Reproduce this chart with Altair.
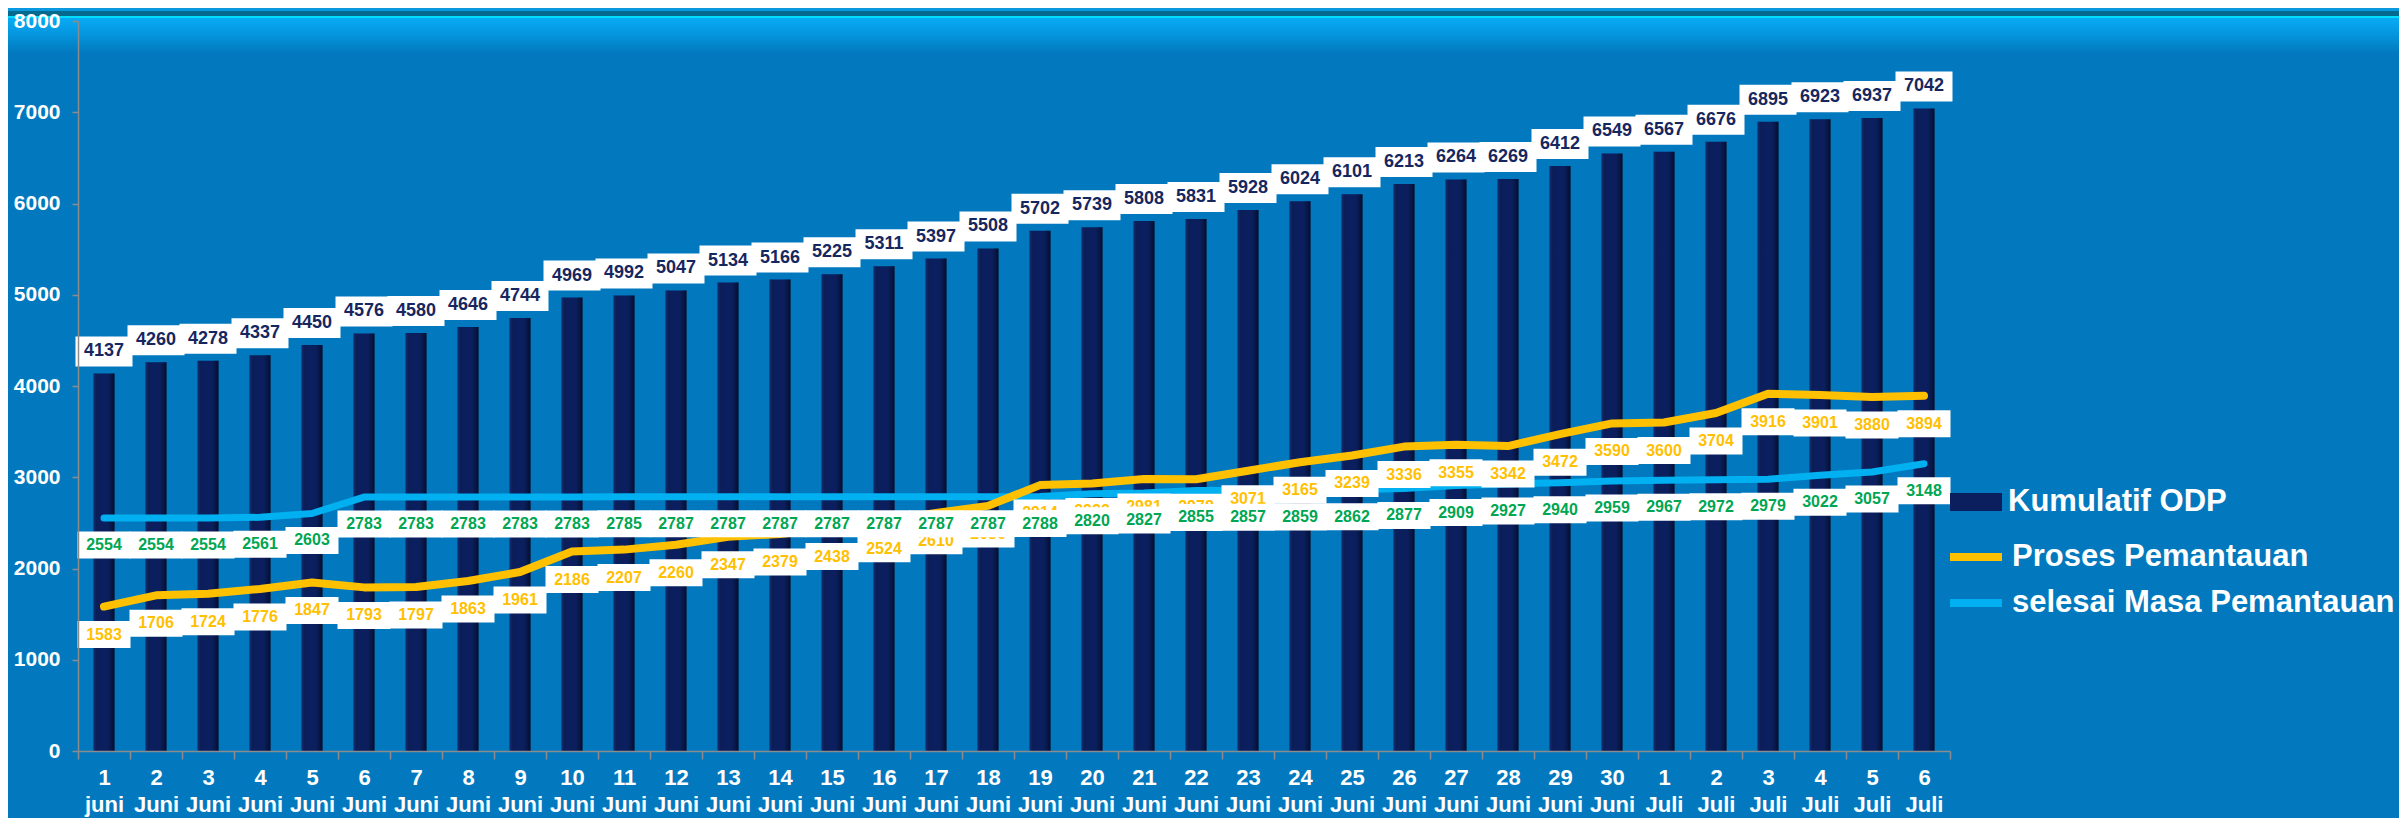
import altair as alt
import pandas as pd

# ---- data ----
day_labels = ["1", "2", "3", "4", "5", "6", "7", "8", "9", "10",
              "11", "12", "13", "14", "15", "16", "17", "18", "19", "20",
              "21", "22", "23", "24", "25", "26", "27", "28", "29", "30",
              "1", "2", "3", "4", "5", "6"]
month_labels = ["juni"] + ["Juni"] * 29 + ["Juli"] * 6

kumulatif_odp = [4137, 4260, 4278, 4337, 4450, 4576, 4580, 4646, 4744, 4969,
                 4992, 5047, 5134, 5166, 5225, 5311, 5397, 5508, 5702, 5739,
                 5808, 5831, 5928, 6024, 6101, 6213, 6264, 6269, 6412, 6549,
                 6567, 6676, 6895, 6923, 6937, 7042]
proses_pemantauan = [1583, 1706, 1724, 1776, 1847, 1793, 1797, 1863, 1961, 2186,
                     2207, 2260, 2347, 2379, 2438, 2524, 2610, 2686, 2914, 2932,
                     2981, 2978, 3071, 3165, 3239, 3336, 3355, 3342, 3472, 3590,
                     3600, 3704, 3916, 3901, 3880, 3894]
selesai_pemantauan = [2554, 2554, 2554, 2561, 2603, 2783, 2783, 2783, 2783, 2783,
                      2785, 2787, 2787, 2787, 2787, 2787, 2787, 2787, 2788, 2820,
                      2827, 2855, 2857, 2859, 2862, 2877, 2909, 2927, 2940, 2959,
                      2967, 2972, 2979, 3022, 3057, 3148]

series_names = ["Kumulatif ODP", "Proses Pemantauan", "selesai Masa Pemantauan"]
y_ticks = [0, 1000, 2000, 3000, 4000, 5000, 6000, 7000, 8000]

# ---- styling ----
BG = "#0279BE"
NAVY = "#0B1F5E"
ORANGE = "#FFC000"
BLUE = "#00B0F0"
GREEN = "#00A651"
LABEL_NAVY = "#16275F"
FONT = "Liberation Sans"

W, H = 1872, 730
PAD = {"left": 70, "top": 13, "right": 449, "bottom": 67}

categories = [f"{d}|{m}" for d, m in zip(day_labels, month_labels)]
df = pd.DataFrame({
    "cat": categories,
    "odp": kumulatif_odp,
    "proses": proses_pemantauan,
    "selesai": selesai_pemantauan,
})
lines_df = pd.DataFrame({
    "cat": categories * 2,
    "series": [series_names[1]] * len(categories) + [series_names[2]] * len(categories),
    "value": proses_pemantauan + selesai_pemantauan,
})

x_enc = alt.X(
    "cat:N", sort=categories, title=None,
    scale=alt.Scale(paddingInner=0, paddingOuter=0),
    axis=alt.Axis(
        labelExpr="split(datum.label, '|')",
        labelAngle=0, labelColor="white", labelFont=FONT, labelFontSize=22,
        labelFontWeight="bold", labelLineHeight=27, labelBaseline="top",
        labelPadding=8, tickSize=8, tickColor="#8C8C8C", tickWidth=1.5,
        tickBand="extent", domainColor="#8C8C8C", domainWidth=1.5,
        labelOverlap=False, labelLimit=200, zindex=1,
    ),
)


def y_enc(field):
    return alt.Y(
        field, title=None,
        scale=alt.Scale(domain=[0, 8000], nice=False, zero=True),
        axis=alt.Axis(
            values=y_ticks, format="d", labelColor="white", labelFont=FONT,
            labelFontSize=21, labelFontWeight="bold", labelPadding=12,
            tickSize=6, tickColor="#8C8C8C", tickWidth=1.5,
            domainColor="#8C8C8C", domainWidth=1.5, grid=False, zindex=1,
        ),
    )


base = alt.Chart(df)

# decorative header band of the slide template
band = alt.Chart(pd.DataFrame({"k": [0]})).mark_rect(
    fill=alt.Gradient(
        gradient="linear", x1=0, x2=0, y1=0, y2=1,
        stops=[
            alt.GradientStop(offset=0, color="#0A98DE"),
            alt.GradientStop(offset=0.07, color="#0A98DE"),
            alt.GradientStop(offset=0.07, color="#06698E"),
            alt.GradientStop(offset=0.18, color="#06698E"),
            alt.GradientStop(offset=0.18, color="#00DDFF"),
            alt.GradientStop(offset=0.23, color="#00DDFF"),
            alt.GradientStop(offset=0.23, color="#08AAF5"),
            alt.GradientStop(offset=0.55, color="#0598E0"),
            alt.GradientStop(offset=1, color=BG),
        ],
    ),
    clip=False,
).encode(
    x=alt.value(-PAD["left"]), x2=alt.value(W + PAD["right"]),
    y=alt.value(-PAD["top"]), y2=alt.value(32),
)

BOX_PATH = "M-1,-{h}L1,-{h}L1,{h}L-1,{h}Z"

bars = base.mark_bar(size=21).transform_calculate(
    s="'Kumulatif ODP'"
).encode(
    x=x_enc, y=y_enc("odp:Q"),
    fill=alt.Fill(
        "s:N", scale=alt.Scale(domain=[series_names[0]], range=[NAVY]),
        legend=alt.Legend(
            title=None, orient="none", legendX=1872, legendY=455,
            symbolType=BOX_PATH.format(h="0.346"), symbolSize=2704,
            symbolStrokeWidth=0, labelFont=FONT, labelFontSize=31,
            labelFontWeight="bold", labelColor="white", labelOffset=6,
            labelLimit=600, padding=0,
        ),
    ),
)

bar_shade = base.mark_bar(
    size=21,
    fill=alt.Gradient(
        gradient="linear", x1=0, x2=1, y1=0, y2=0,
        stops=[
            alt.GradientStop(offset=0, color="rgba(40,70,150,0.45)"),
            alt.GradientStop(offset=0.25, color="rgba(0,0,0,0)"),
            alt.GradientStop(offset=0.7, color="rgba(0,0,0,0)"),
            alt.GradientStop(offset=1, color="rgba(0,0,0,0.55)"),
        ],
    ),
).encode(x=x_enc, y=y_enc("odp:Q"))

line_legend = alt.Legend(
    title=None, orient="none", legendX=1868, legendY=506,
    symbolType="stroke", symbolSize=2704, symbolStrokeWidth=8,
    labelFont=FONT, labelFontSize=31, labelFontWeight="bold",
    labelColor="white", labelOffset=6, labelLimit=600, padding=0, rowPadding=0,
)
stroke_enc = alt.Stroke(
    "series:N",
    scale=alt.Scale(domain=series_names[1:], range=[ORANGE, BLUE]),
    legend=line_legend,
)

line_blue = alt.Chart(lines_df).transform_filter(
    alt.datum.series == series_names[2]
).mark_line(strokeWidth=7, strokeCap="round", strokeJoin="round").encode(
    x=x_enc, y=y_enc("value:Q"), stroke=stroke_enc,
)
line_orange = alt.Chart(lines_df).transform_filter(
    alt.datum.series == series_names[1]
).mark_line(strokeWidth=8, strokeCap="round", strokeJoin="round").encode(
    x=x_enc, y=y_enc("value:Q"), stroke=stroke_enc,
)


def label_layers(field, off, box_w, box_h, color, size):
    half = (box_h / 2) / (box_w / 2)
    box = base.mark_point(
        shape=BOX_PATH.format(h=f"{half:.4f}"), size=box_w * box_w,
        filled=True, fill="white", opacity=1, fillOpacity=1, strokeWidth=0,
        yOffset=off,
    ).encode(x=x_enc, y=y_enc(f"{field}:Q"))
    txt = base.mark_text(
        dy=off, fontSize=size, fontWeight="bold", font=FONT, color=color,
        baseline="middle", align="center",
    ).encode(x=x_enc, y=y_enc(f"{field}:Q"), text=alt.Text(f"{field}:Q", format="d"))
    return [box, txt]


layers = [band, bars, bar_shade, line_blue, line_orange]
layers += label_layers("odp", -22, 57, 30, LABEL_NAVY, 18)
layers += label_layers("proses", 28, 53, 27, ORANGE, 16)
layers += label_layers("selesai", 27, 53, 27, GREEN, 16)

chart = alt.layer(*layers).properties(
    width=W, height=H,
    autosize=alt.AutoSizeParams(type="none"),
    padding=PAD,
    background=BG,
).configure_view(stroke=None)

chart.save("out.html", embed_options={"renderer": "svg", "actions": False})
